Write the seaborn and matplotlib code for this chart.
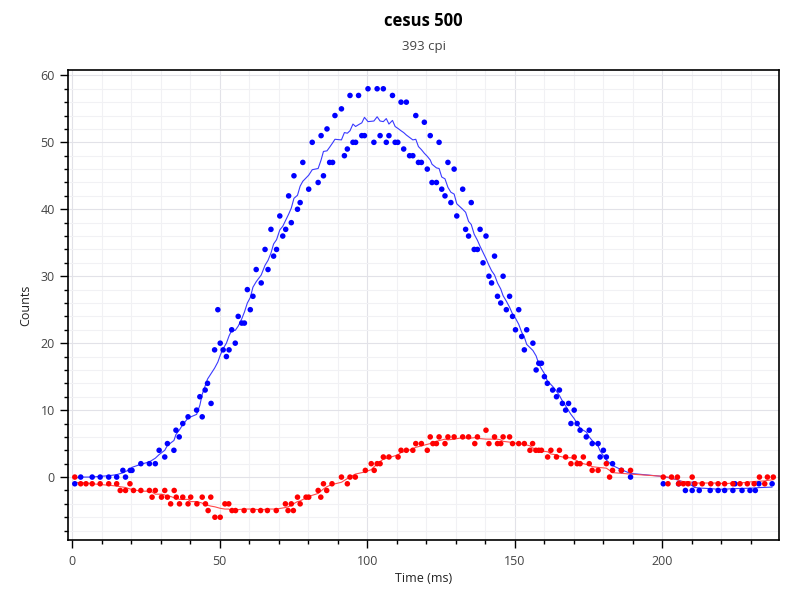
import matplotlib
matplotlib.use("Agg")
import numpy as np
import pandas as pd
import matplotlib.pyplot as plt
import seaborn as sns
from matplotlib.ticker import MultipleLocator

# blue channel (time in ms, counts)
blue_t = [0.9, 2.9, 6.8, 9.5, 12.4, 15.1, 17.2, 18.1, 19.7, 20.3,
          23.3, 26.2, 28.2, 29.5, 31.4, 32.3, 34.5, 35.2, 36.3, 37.5,
          39.3, 42.2, 43.3, 44.1, 45.1, 45.9, 47.1, 48.3, 49.4, 50.2,
          51.2, 52.3, 53.2, 54.1, 55.3, 56.3, 57.5, 58.4, 59.4, 60.4,
          61.3, 62.4, 64.1, 65.4, 66.4, 67.4, 68.3, 69.3, 70.4, 71.4,
          72.4, 73.4, 74.3, 75.2, 76.4, 77.3, 78.2, 80.2, 81.4, 83.4,
          84.4, 85.2, 86.4, 87.3, 88.3, 89.1, 91.3, 92.3, 93.3, 94.2,
          95.2, 96.1, 97.1, 98.2, 99.1, 100.3, 102.3, 103.4, 104.4, 105.5,
          106.5, 107.4, 108.6, 109.5, 110.4, 111.5, 112.4, 113.3, 114.4, 115.5,
          116.5, 117.4, 118.4, 119.4, 120.4, 121.4, 122.0, 123.5, 124.4, 125.3,
          126.4, 127.4, 128.4, 129.5, 130.4, 132.4, 133.4, 134.4, 135.3, 136.3,
          137.4, 138.3, 139.3, 140.3, 141.3, 142.2, 143.2, 144.2, 145.3, 146.1,
          147.2, 148.3, 149.3, 150.3, 151.4, 152.4, 153.3, 154.1, 156.2, 157.3,
          158.2, 159.1, 160.1, 161.1, 162.9, 164.2, 165.2, 166.2, 167.3, 168.3,
          169.1, 170.2, 171.2, 172.2, 174.3, 175.3, 176.3, 178.3, 179.0, 180.1,
          181.1, 183.2, 186.2, 189.3, 200.4, 205.6, 207.9, 210.2, 210.9, 212.6,
          216.3, 219.0, 221.2, 224.0, 224.7, 227.1, 229.8, 231.6, 232.8, 237.3]
blue_counts = [-1, 0, 0, 0, 0, 0, 1, 0, 1, 1,
               2, 2, 2, 4, 3, 5, 4, 7, 6, 8,
               9, 10, 12, 9, 13, 14, 11, 19, 25, 20,
               19, 18, 19, 22, 20, 24, 23, 23, 28, 25,
               27, 31, 29, 34, 31, 37, 33, 34, 39, 36,
               37, 42, 38, 45, 40, 41, 47, 43, 50, 44,
               51, 45, 52, 47, 47, 54, 55, 48, 49, 57,
               50, 50, 57, 51, 51, 58, 50, 58, 51, 58,
               50, 51, 57, 50, 50, 56, 49, 56, 48, 48,
               54, 47, 47, 53, 46, 51, 44, 44, 50, 43,
               42, 47, 41, 46, 39, 43, 37, 36, 41, 34,
               34, 37, 32, 36, 30, 29, 33, 27, 26, 30,
               25, 27, 24, 22, 25, 21, 19, 22, 20, 16,
               17, 17, 15, 14, 13, 12, 13, 11, 10, 11,
               8, 10, 8, 7, 6, 7, 5, 5, 3, 4,
               3, 2, 1, 0, -1, -1, -2, -2, -1, -2,
               -2, -2, -2, -2, -1, -2, -2, -2, -1, -1]

# red channel
red_t = [0.9, 2.9, 4.7, 6.8, 9.5, 12.4, 15.1, 16.3, 18.1, 19.6,
         20.8, 23.3, 26.2, 27.1, 28.2, 30.3, 31.4, 32.3, 33.4, 34.6,
         35.3, 36.4, 37.5, 39.3, 40.2, 42.3, 44.1, 45.2, 46.1, 47.0,
         48.4, 50.2, 51.8, 53.1, 54.2, 55.4, 58.3, 61.3, 63.9, 66.2,
         69.2, 72.3, 73.2, 74.3, 75.0, 76.4, 77.3, 79.3, 80.2, 83.4,
         84.3, 85.2, 86.3, 88.1, 91.3, 93.3, 94.2, 96.0, 99.4, 101.4,
         102.4, 103.4, 104.4, 105.5, 107.4, 110.5, 111.5, 113.3, 115.5, 116.5,
         118.4, 120.4, 121.4, 122.3, 123.5, 124.4, 126.4, 127.4, 129.5, 132.4,
         134.4, 136.5, 137.4, 140.3, 141.3, 143.2, 144.2, 145.3, 146.1, 148.3,
         149.3, 151.4, 153.3, 155.2, 156.1, 157.2, 158.2, 159.1, 161.2, 162.3,
         164.2, 165.2, 167.3, 169.1, 170.2, 171.2, 172.2, 173.3, 175.3, 176.3,
         178.3, 181.1, 182.2, 183.2, 186.2, 189.3, 200.4, 202.0, 203.2, 205.2,
         205.6, 207.2, 208.8, 210.2, 211.1, 213.6, 216.5, 219.0, 221.2, 224.0,
         226.4, 228.9, 231.2, 233.0, 234.8, 235.7, 237.7]
red_counts = [0, -1, -1, -1, -1, -1, -1, -2, -2, -1,
              -2, -2, -2, -3, -2, -3, -2, -3, -4, -2,
              -3, -4, -3, -4, -3, -4, -3, -4, -5, -3,
              -6, -6, -4, -4, -5, -5, -5, -5, -5, -5,
              -5, -4, -5, -4, -5, -3, -4, -3, -3, -2,
              -3, -1, -2, -1, 0, -1, 0, 0, 1, 2,
              1, 2, 2, 3, 3, 3, 4, 4, 4, 5,
              5, 4, 6, 5, 5, 6, 5, 6, 6, 6,
              6, 5, 6, 7, 5, 6, 5, 5, 6, 6,
              5, 5, 5, 4, 5, 4, 4, 4, 3, 4,
              3, 4, 3, 2, 3, 2, 2, 3, 2, 1,
              1, 2, 0, 1, 1, 1, 0, -1, 0, 0,
              -1, -1, -1, 0, -1, -1, -1, -1, -1, -1,
              -1, -1, -1, 0, -1, 0, 0]

blue = pd.DataFrame({"time": blue_t, "counts": blue_counts})
red = pd.DataFrame({"time": red_t, "counts": red_counts})
# running average drawn as the thin trace through the dots
blue["smooth"] = blue["counts"].rolling(11, center=True, min_periods=1).mean()
red["smooth"] = red["counts"].rolling(9, center=True, min_periods=1).mean()

sns.set_theme(style="white")
plt.rcParams["font.family"] = ["Open Sans", "DejaVu Sans"]

fig = plt.figure(figsize=(8, 6), dpi=100)
ax = fig.add_axes([0.085, 0.10, 0.889, 0.7833])

sns.lineplot(data=blue, x="time", y="smooth", color="#3a3aff", lw=0.8,
             estimator=None, sort=True, ax=ax, zorder=2)
sns.lineplot(data=red, x="time", y="smooth", color="#ff4a4a", lw=0.8,
             estimator=None, sort=True, ax=ax, zorder=2)
sns.scatterplot(data=blue, x="time", y="counts", color="#0000ff", s=16,
                edgecolor="none", ax=ax, zorder=3)
sns.scatterplot(data=red, x="time", y="counts", color="#ff0000", s=16,
                edgecolor="none", ax=ax, zorder=3)

ax.set_xlim(-1.4, 239.7)
ax.set_ylim(-9.4, 60.8)
ax.xaxis.set_major_locator(MultipleLocator(50))
ax.xaxis.set_minor_locator(MultipleLocator(10))
ax.yaxis.set_major_locator(MultipleLocator(10))
ax.yaxis.set_minor_locator(MultipleLocator(2))

ax.grid(which="major", color="#e2e2e8", lw=0.8)
ax.grid(which="minor", color="#f1f1f4", lw=0.8)
ax.set_axisbelow(True)

for s in ax.spines.values():
    s.set_color("black")
    s.set_linewidth(1.2)

ax.tick_params(which="both", bottom=True, left=True, top=False, right=False,
               direction="out", color="black", width=1)
ax.tick_params(which="major", length=6, labelsize=9, labelcolor="#444444")
ax.tick_params(which="minor", length=3)
ax.tick_params(axis="x", which="major", pad=5)

ax.set_xlabel("Time (ms)", fontsize=9, color="#222222", labelpad=3)
ax.set_ylabel("Counts", fontsize=9, color="#222222", labelpad=6)

ax.text(0.5, 1.105, "cesus 500", transform=ax.transAxes, ha="center",
        va="center", fontsize=12, fontweight="bold", color="black")
ax.text(0.5, 1.05, "393 cpi", transform=ax.transAxes, ha="center",
        va="center", fontsize=9.5, color="#444444")

fig.savefig("out.png", dpi=100)
